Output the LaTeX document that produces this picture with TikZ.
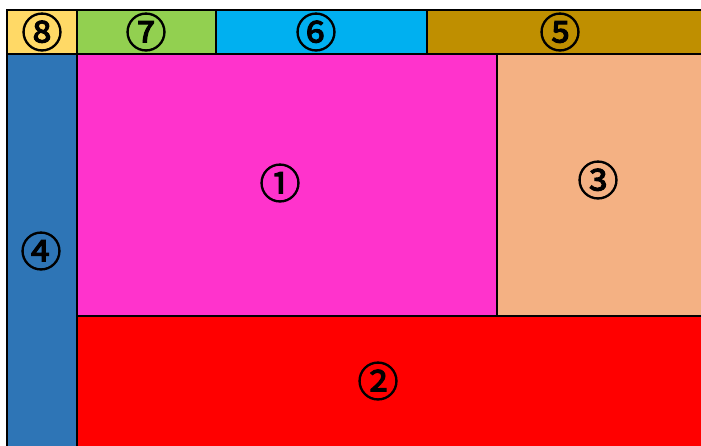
\documentclass[tikz,border=0pt]{standalone}
\usepackage{fontspec}
\newfontfamily\cjk[FakeBold=2.5]{Noto Sans CJK JP}
\definecolor{c8}{HTML}{FFD966}
\definecolor{c7}{HTML}{92D050}
\definecolor{c6}{HTML}{00B0F0}
\definecolor{c5}{HTML}{BF8F00}
\definecolor{c4}{HTML}{2E75B6}
\definecolor{c1}{HTML}{FF33CC}
\definecolor{c3}{HTML}{F4B183}
\definecolor{c2}{HTML}{FF0000}
\tikzset{
  cell/.style={draw=black, line width=2pt},
  lbl/.style={font=\cjk\fontsize{41}{41}\selectfont, text=black, inner sep=0pt}
}
\begin{document}
\begin{tikzpicture}[x=1pt,y=-1pt]
\useasboundingbox (0,0) rectangle (701,445);
\fill[white] (0,0) rectangle (701,445);
% top row
\filldraw[cell, fill=c8] (7,10) rectangle (77,54);
\filldraw[cell, fill=c7] (77,10) rectangle (216,54);
\filldraw[cell, fill=c6] (216,10) rectangle (427,54);
\filldraw[cell, fill=c5] (427,10) rectangle (703,54);
% left column
\filldraw[cell, fill=c4] (7,54) rectangle (77,447);
% main area
\filldraw[cell, fill=c1] (77,54) rectangle (497,316);
\filldraw[cell, fill=c3] (497,54) rectangle (703,316);
\filldraw[cell, fill=c2] (77,316) rectangle (703,447);
% labels
\node[lbl] (n8) at (42,32) {⑧};
\node[lbl] (n7) at (146,32) {⑦};
\node[lbl] (n6) at (316,32) {⑥};
\node[lbl] (n5) at (560,32) {⑤};
\node[lbl] (n1) at (280,183) {①};
\node[lbl] (n3) at (598,180) {③};
\node[lbl] (n4) at (41,251) {④};
\node[lbl] (n2) at (378,381) {②};
\end{tikzpicture}
\end{document}
